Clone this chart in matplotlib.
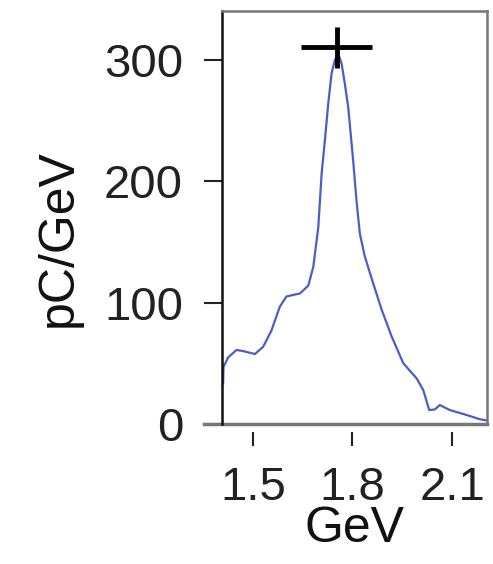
import matplotlib
matplotlib.use("Agg")
import matplotlib.pyplot as plt
from matplotlib.lines import Line2D

plt.rcParams['font.family'] = ['Liberation Sans', 'DejaVu Sans']

# Spectrum (GeV vs pC/GeV)
energy = [1.4105, 1.4115, 1.426, 1.451, 1.471, 1.506, 1.531, 1.556, 1.581, 1.601,
          1.642, 1.667, 1.682, 1.697, 1.707, 1.717, 1.727, 1.737, 1.747, 1.757,
          1.767, 1.777, 1.787, 1.802, 1.812, 1.822, 1.837, 1.862, 1.888, 1.918,
          1.953, 1.993, 2.013, 2.031, 2.048, 2.063, 2.093, 2.144, 2.184, 2.204]
charge = [33.5, 47, 55, 61, 60, 57.6, 63.6, 77, 96.5, 105,
          107.5, 114, 129.5, 162, 206, 234, 264, 288.6, 299.6, 305,
          297, 280, 261, 217, 184, 157, 138, 116, 94, 72,
          50, 37.6, 28, 11.5, 12, 15.6, 11.5, 7.4, 3.9, 3]

# Peak marker with error bars
peak_x = [1.753]
peak_y = [310]
peak_xerr = [0.107]
peak_yerr = [17]

xticks = [1.5, 1.8, 2.1]
xtick_labels = ['1.5', '1.8', '2.1']
yticks = [0, 100, 200, 300]

fig = plt.figure(figsize=(4.93, 5.64), dpi=100)
ax = fig.add_axes([0.4503, 0.2482, 0.5375, 0.7323])

ax.plot(energy, charge, color='#4a5ec4', lw=1.6)
ax.errorbar(peak_x, peak_y, xerr=peak_xerr, yerr=peak_yerr, fmt='none',
            ecolor='black', elinewidth=3.5, capsize=0)

ax.set_xlim(1.407, 2.205)
ax.set_ylim(0, 340)
ax.set_xticks(xticks)
ax.set_xticklabels(xtick_labels)
ax.set_yticks(yticks)

ax.tick_params(axis='y', direction='out', length=13, width=1.5, pad=15,
               labelsize=34, colors='#222222')
ax.tick_params(axis='x', direction='out', length=10, width=1.5, pad=14,
               labelsize=34, colors='#222222')

ax.spines['left'].set_color('#111111')
ax.spines['left'].set_linewidth(1.8)
for s in ['top', 'right']:
    ax.spines[s].set_color('#777777')
    ax.spines[s].set_linewidth(1.8)
ax.spines['bottom'].set_position(('outward', 6))
ax.spines['bottom'].set_color('none')

# Gray baseline extending left under the y axis
ax.add_line(Line2D([-0.068, 1.0], [0, 0], transform=ax.transAxes,
                   color='#777777', lw=2.5, clip_on=False))

ax.set_ylabel('pC/GeV', fontsize=36, color='#111111')
ax.yaxis.set_label_coords(-0.53, 0.45)
ax.set_xlabel('GeV', fontsize=36, color='#111111', labelpad=-3)

fig.savefig('out.png', dpi=100, facecolor='white')
